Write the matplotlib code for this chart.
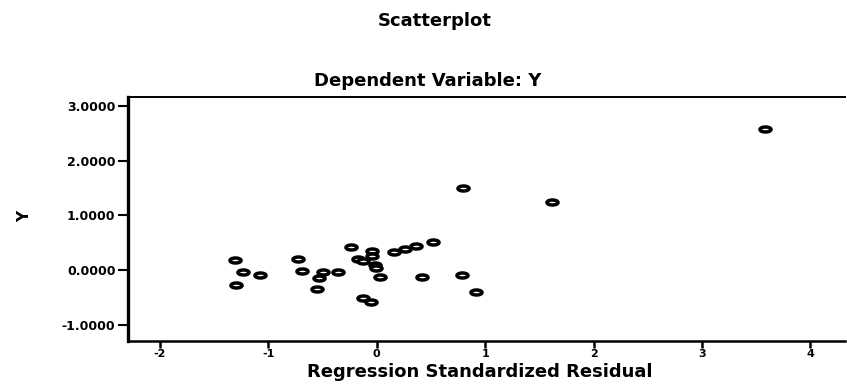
import matplotlib
matplotlib.use("Agg")
import numpy as np
import matplotlib.pyplot as plt
from matplotlib.path import Path

# residual (x) vs dependent variable Y (y)
resid = [3.58, 1.62, 0.80, 0.52, 0.36, 0.26, 0.16, -0.24, -0.04, -0.04,
         -0.17, -0.13, -0.02, -0.01, 0.03, 0.42, 0.79, 0.92, -0.13, -0.05,
         -0.36, -0.50, -0.53, -0.55, -0.69, -0.73, -1.08, -1.23, -1.31, -1.30]
yvals = [2.58, 1.25, 1.50, 0.52, 0.44, 0.39, 0.33, 0.42, 0.35, 0.26,
         0.21, 0.17, 0.10, 0.04, -0.12, -0.12, -0.09, -0.40, -0.50, -0.58,
         -0.03, -0.03, -0.14, -0.34, -0.01, 0.21, -0.09, -0.03, 0.19, -0.27]

xticks = [-2, -1, 0, 1, 2, 3, 4]
yticks = [-1.0, 0.0, 1.0, 2.0, 3.0]

plt.rcParams['font.family'] = ['DejaVu Sans']
plt.rcParams['font.weight'] = 'bold'

# the scan is stretched sideways, so the open circles look like flat rings
circ = Path.unit_circle()
ring = Path(circ.vertices * np.array([1.0, 0.45]), circ.codes)

fig = plt.figure(figsize=(8.47, 3.85), dpi=100)
ax = fig.add_axes([0.1511, 0.1143, 0.8465, 0.6338])

ax.plot(resid, yvals, linestyle='none', marker=ring, markersize=8.0,
        markerfacecolor='white', markeredgecolor='black', markeredgewidth=2.5)

ax.set_xlim(-2.295, 4.32)
ax.set_ylim(-1.29, 3.16)
ax.set_xticks(xticks)
ax.set_xticklabels([str(t) for t in xticks], fontsize=8, fontweight='bold')
ax.set_yticks(yticks)
ax.set_yticklabels(['%.4f' % t for t in yticks], fontsize=9, fontweight='bold')
ax.tick_params(axis='y', direction='out', length=7, width=1.5, pad=2)
ax.tick_params(axis='x', direction='out', length=5, width=1.8, pad=1)
ax.spines['left'].set_linewidth(2.4)
ax.spines['bottom'].set_linewidth(1.8)
ax.spines['top'].set_linewidth(1.4)
ax.spines['right'].set_visible(False)

ax.set_xlabel('Regression Standardized Residual', fontsize=13, fontweight='bold', va='center')
ax.xaxis.set_label_coords(0.491, -0.127)
ax.set_ylabel('Y', fontsize=11, fontweight='bold', va='center', ha='center')
ax.yaxis.set_label_coords(-0.144, 0.512)

fig.text(435 / 847, 1 - 21.5 / 385, 'Scatterplot', ha='center', va='center',
         fontsize=13, fontweight='bold')
fig.text(428 / 847, 1 - 81 / 385, 'Dependent Variable: Y', ha='center', va='center',
         fontsize=13, fontweight='bold')

fig.savefig('out.png', dpi=100)
